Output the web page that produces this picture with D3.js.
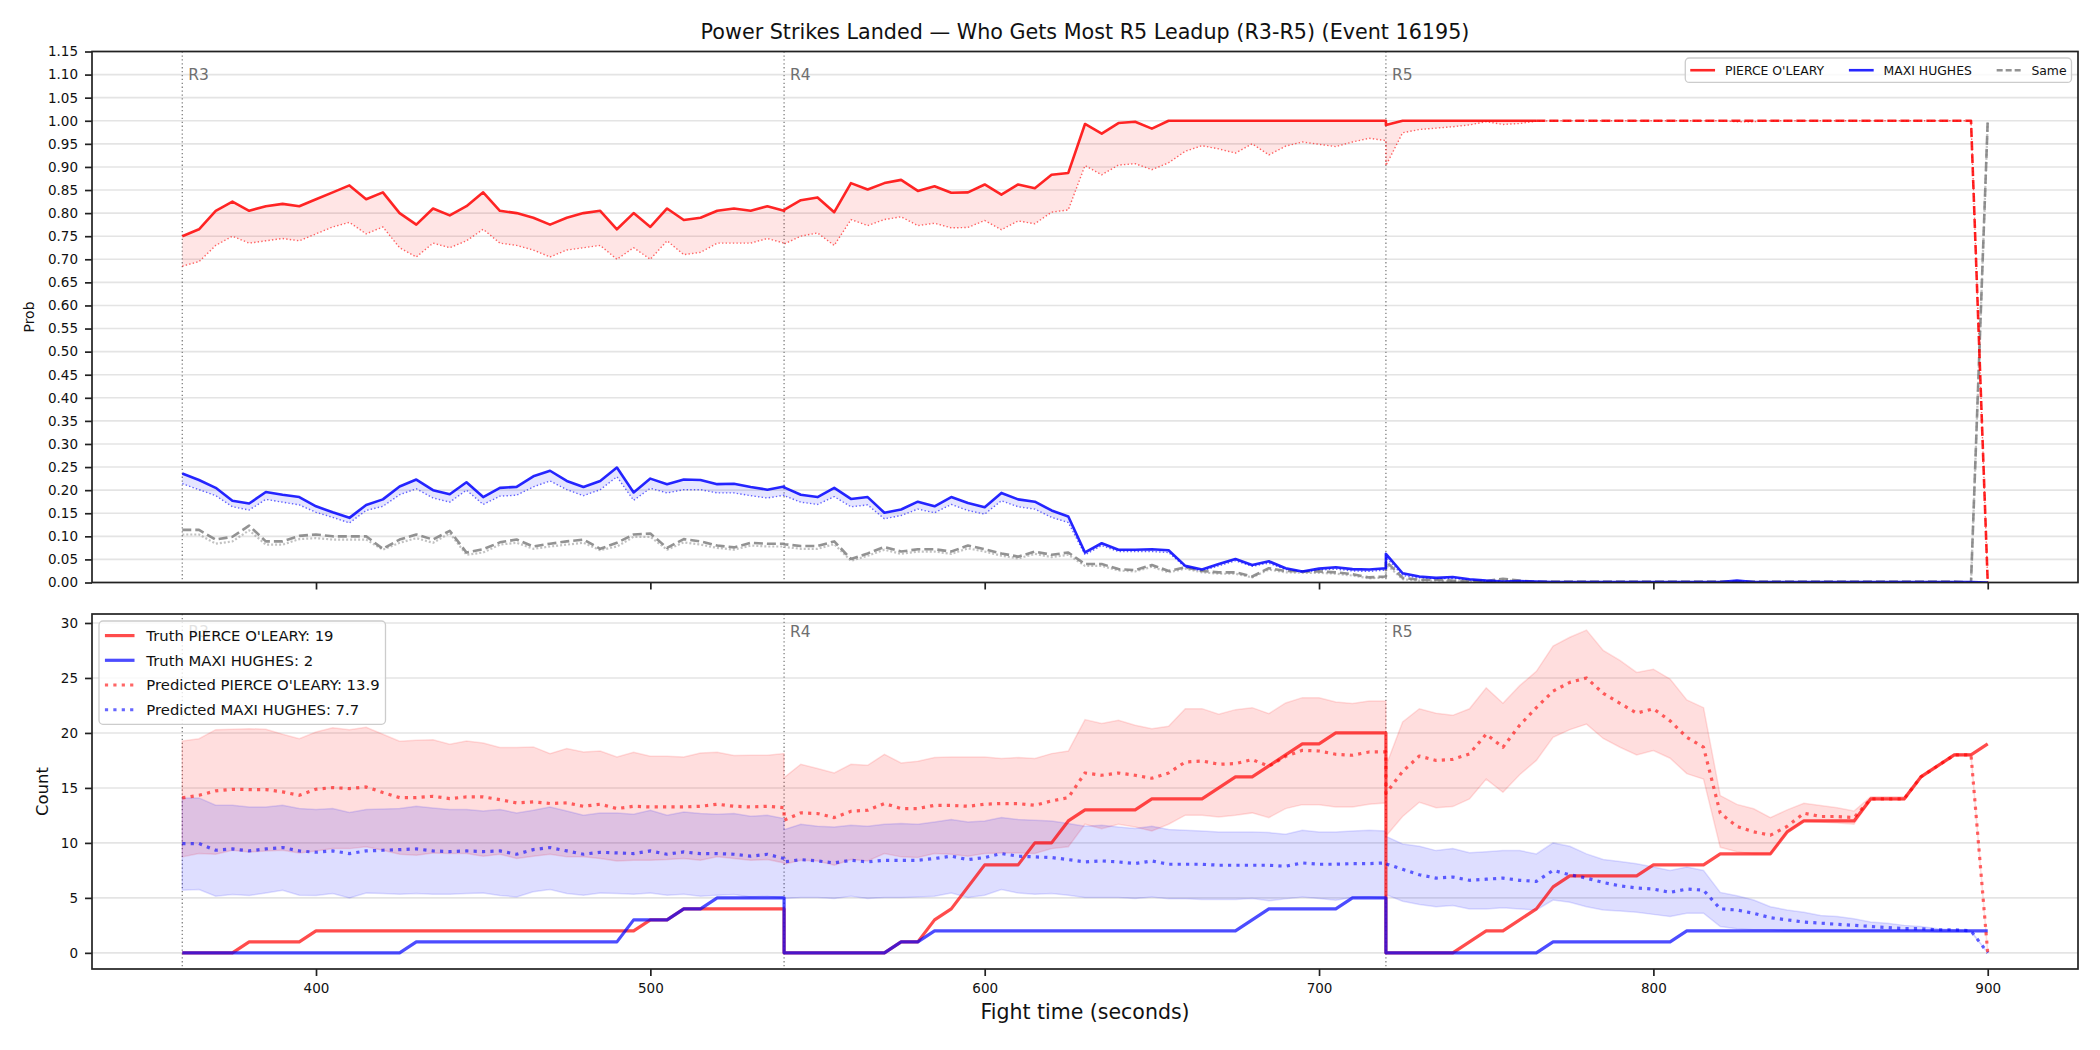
<!DOCTYPE html>
<html><head><meta charset="utf-8">
<script src="https://cdn.jsdelivr.net/npm/d3@7/dist/d3.min.js"></script>
<style>
body{margin:0;background:#fff}
svg{display:block}
text{font-family:"DejaVu Sans",sans-serif}
</style>
</head><body>
<svg id="chart" width="2100" height="1050"></svg>
<script>
// ---------------- DATA ----------------
const titleText = "Power Strikes Landed \u2014 Who Gets Most R5 Leadup (R3-R5) (Event 16195)";
const fighters = ["PIERCE O'LEARY", "MAXI HUGHES"];
const rounds = [{label:"R3", t:360}, {label:"R4", t:540}, {label:"R5", t:720}];
const probTicks = [0.00,0.05,0.10,0.15,0.20,0.25,0.30,0.35,0.40,0.45,0.50,0.55,0.60,0.65,0.70,0.75,0.80,0.85,0.90,0.95,1.00,1.05,1.10,1.15];
const countTicks = [0,5,10,15,20,25,30];
const timeTicks = [400,500,600,700,800,900];
const lockTime = 765; // after this the R5 top-panel red line is drawn dashed

const times = [
360,365,370,375,380,385,390,395,400,405,410,415,420,425,430,435,440,445,450,455,460,465,470,475,480,485,490,495,500,505,510,515,520,525,530,535,540,
540,545,550,555,560,565,570,575,580,585,590,595,600,605,610,615,620,625,630,635,640,645,650,655,660,665,670,675,680,685,690,695,700,705,710,715,720,
720,725,730,735,740,745,750,755,760,765,770,775,780,785,790,795,800,805,810,815,820,825,830,835,840,845,850,855,860,865,870,875,880,885,890,895,900];

// Top panel: probabilities
const probRed = [
0.750,0.765,0.805,0.825,0.805,0.815,0.820,0.815,0.830,0.845,0.860,0.830,0.845,0.800,0.775,0.810,0.795,0.815,0.845,0.805,0.800,0.790,0.775,0.790,0.800,0.805,0.765,0.800,0.770,0.810,0.785,0.790,0.805,0.810,0.805,0.815,0.805,
0.807,0.828,0.834,0.802,0.865,0.851,0.865,0.872,0.848,0.858,0.844,0.845,0.862,0.840,0.862,0.854,0.883,0.887,0.993,0.972,0.995,0.998,0.983,1,1,1,1,1,1,1,1,1,1,1,1,1,1,
0.991,1,1,1,1,1,1,1,1,1,1,1,1,1,1,1,1,1,1,1,1,1,1,1,1,1,1,1,1,1,1,1,1,1,1,1,0];
const probRedLow = [
0.685,0.695,0.730,0.750,0.735,0.740,0.745,0.740,0.755,0.770,0.780,0.755,0.770,0.725,0.705,0.735,0.725,0.740,0.765,0.735,0.730,0.720,0.705,0.720,0.725,0.730,0.700,0.725,0.700,0.740,0.710,0.715,0.735,0.735,0.735,0.745,0.735,
0.733,0.750,0.757,0.730,0.786,0.773,0.786,0.792,0.773,0.778,0.768,0.769,0.784,0.764,0.783,0.777,0.802,0.807,0.903,0.883,0.904,0.907,0.894,0.909,0.934,0.946,0.939,0.930,0.950,0.926,0.945,0.954,0.949,0.944,0.954,0.962,0.957,
0.903,0.974,0.981,0.984,0.987,0.991,0.998,0.992,0.994,0.999,1,1,1,1,1,1,1,1,1,1,1,0.998,0.998,1,1,1,1,1,1,1,1,1,1,1,1,1,0];
const probBlue = [
0.236,0.222,0.205,0.177,0.171,0.196,0.190,0.185,0.165,0.152,0.140,0.168,0.180,0.208,0.223,0.200,0.191,0.217,0.185,0.205,0.207,0.230,0.242,0.220,0.207,0.220,0.249,0.195,0.225,0.213,0.223,0.222,0.213,0.214,0.207,0.201,0.208,
0.206,0.190,0.185,0.205,0.181,0.185,0.151,0.158,0.175,0.165,0.185,0.172,0.163,0.194,0.180,0.175,0.156,0.143,0.065,0.085,0.071,0.071,0.072,0.070,0.036,0.028,0.040,0.051,0.038,0.046,0.031,0.024,0.030,0.033,0.029,0.028,0.031,
0.062,0.020,0.013,0.010,0.012,0.007,0.004,0.002,0.003,0.002,0.001,0.001,0.001,0.001,0.001,0.001,0.001,0.001,0.001,0.001,0.001,0.004,0.001,0.001,0.001,0.001,0.001,0.001,0.001,0.001,0.001,0.001,0.001,0.001,0.001,0.001,0];
const probBlueLow = [
0.214,0.201,0.188,0.164,0.157,0.180,0.174,0.168,0.152,0.141,0.129,0.156,0.165,0.190,0.203,0.183,0.174,0.200,0.169,0.187,0.189,0.207,0.220,0.201,0.188,0.201,0.229,0.178,0.204,0.194,0.201,0.201,0.194,0.194,0.188,0.183,0.189,
0.188,0.174,0.169,0.186,0.164,0.168,0.138,0.145,0.159,0.151,0.169,0.156,0.148,0.177,0.164,0.159,0.141,0.130,0.060,0.080,0.067,0.067,0.067,0.065,0.033,0.025,0.036,0.047,0.035,0.042,0.028,0.022,0.027,0.029,0.025,0.024,0.027,
0.055,0.015,0.010,0.008,0.009,0.005,0.003,0.001,0.002,0.001,0.0005,0.0005,0.0005,0.0005,0.0005,0.0005,0.0005,0.0005,0.0005,0.0005,0.0005,0.003,0.0005,0.0005,0.0005,0.0005,0.0005,0.0005,0.0005,0.0005,0.0005,0.0005,0.0005,0.0005,0.0005,0.0005,0];
const probSame = [
0.114,0.114,0.093,0.099,0.123,0.089,0.089,0.101,0.104,0.100,0.100,0.100,0.073,0.093,0.104,0.093,0.112,0.065,0.072,0.087,0.093,0.078,0.084,0.089,0.093,0.073,0.086,0.104,0.106,0.075,0.094,0.089,0.080,0.076,0.086,0.084,0.084,
0.083,0.079,0.079,0.089,0.051,0.063,0.077,0.067,0.072,0.072,0.067,0.080,0.072,0.063,0.056,0.067,0.060,0.065,0.040,0.040,0.029,0.027,0.038,0.025,0.033,0.025,0.022,0.022,0.013,0.031,0.025,0.024,0.024,0.022,0.018,0.011,0.013,
0.046,0.010,0.006,0.006,0.004,0.003,0.003,0.008,0.004,0.002,0.002,0.002,0.002,0.002,0.002,0.002,0.002,0.002,0.002,0.002,0.002,0.002,0.002,0.002,0.002,0.002,0.002,0.002,0.002,0.002,0.002,0.002,0.002,0.002,0.002,0,1];
const probSameLow = [
0.104,0.104,0.084,0.089,0.113,0.082,0.082,0.094,0.096,0.093,0.093,0.093,0.071,0.086,0.096,0.086,0.107,0.060,0.065,0.082,0.086,0.073,0.078,0.082,0.086,0.070,0.078,0.099,0.099,0.071,0.087,0.082,0.075,0.071,0.080,0.078,0.078,
0.077,0.073,0.073,0.083,0.047,0.058,0.071,0.062,0.067,0.067,0.062,0.074,0.067,0.058,0.052,0.062,0.055,0.060,0.036,0.036,0.026,0.024,0.034,0.022,0.030,0.022,0.019,0.019,0.011,0.028,0.022,0.021,0.021,0.019,0.015,0.009,0.011,
0.040,0.007,0.004,0.004,0.003,0.002,0.002,0.006,0.003,0.001,0.001,0.001,0.001,0.001,0.001,0.001,0.001,0.001,0.001,0.001,0.001,0.001,0.001,0.001,0.001,0.001,0.001,0.001,0.001,0.001,0.001,0.001,0.001,0.001,0.001,0,1];

// Bottom panel: counts
const truthRed = [
0,0,0,0,1,1,1,1,2,2,2,2,2,2,2,2,2,2,2,2,2,2,2,2,2,2,2,2,3,3,4,4,4,4,4,4,4,
0,0,0,0,0,0,0,1,1,3,4,6,8,8,8,10,10,12,13,13,13,13,14,14,14,14,15,16,16,17,18,19,19,20,20,20,20,
0,0,0,0,0,1,2,2,3,4,6,7,7,7,7,7,8,8,8,8,9,9,9,9,11,12,12,12,12,14,14,14,16,17,18,18,19];
const truthBlue = [
0,0,0,0,0,0,0,0,0,0,0,0,0,0,1,1,1,1,1,1,1,1,1,1,1,1,1,3,3,3,4,4,5,5,5,5,5,
0,0,0,0,0,0,0,1,1,2,2,2,2,2,2,2,2,2,2,2,2,2,2,2,2,2,2,2,3,4,4,4,4,4,5,5,5,
0,0,0,0,0,0,0,0,0,0,1,1,1,1,1,1,1,1,2,2,2,2,2,2,2,2,2,2,2,2,2,2,2,2,2,2,2];
const predRed = [
14.09,14.33,14.73,14.88,14.85,14.85,14.64,14.33,14.88,15.03,14.94,15.09,14.58,14.12,14.12,14.24,14.03,14.18,14.18,13.94,13.64,13.73,13.58,13.64,13.33,13.52,13.12,13.33,13.27,13.27,13.27,13.33,13.52,13.33,13.27,13.33,13.21,
12.06,12.73,12.67,12.30,12.88,12.97,13.58,13.12,13.12,13.42,13.42,13.33,13.52,13.58,13.58,13.42,13.82,14.12,16.36,16.15,16.36,16.15,15.88,16.36,17.36,17.45,17.15,17.21,17.58,16.97,17.88,18.42,18.36,18.06,17.97,18.27,18.27,
14.5,16.5,17.9,17.5,17.6,18.1,19.9,18.7,20.7,22.3,23.8,24.6,25.0,23.6,22.7,21.8,22.2,21.1,19.6,18.7,12.7,11.5,11.0,10.7,11.5,12.7,12.4,12.4,12.3,14.0,14.0,14.0,16.0,17.0,18.0,18.0,0];
const predRedHigh = [
19.27,19.48,20.30,20.33,20.39,20.33,19.88,19.48,20.09,20.48,20.30,20.52,19.88,19.24,19.33,19.39,18.97,19.27,19.09,18.67,18.67,18.73,18.12,18.58,18.27,18.36,17.82,18.24,17.88,17.88,17.82,18.18,18.24,17.94,17.97,17.97,18.12,
15.94,17.15,16.76,16.36,17.15,17.06,18.06,17.27,17.42,17.76,17.82,17.82,17.82,17.67,17.76,17.67,18.12,18.36,21.21,20.85,21.15,20.70,20.39,20.61,22.21,22.21,21.70,22.12,22.30,21.76,22.73,23.21,23.21,22.82,22.67,22.91,22.91,
17.0,21.0,22.2,21.8,21.6,22.2,24.1,22.7,24.3,25.6,27.9,28.7,29.35,27.5,26.6,25.5,25.8,24.9,23.0,22.3,14.3,13.5,13.1,12.3,13.0,13.6,13.4,13.2,12.9,14.2,14.2,14.2,16.1,17.1,18.1,18.1,0];
const predRedLow = [
8.73,9.03,8.97,9.33,9.18,9.27,9.33,9.09,9.27,9.48,9.48,9.64,9.33,8.97,8.88,9.09,9.03,9.03,8.79,8.97,8.58,8.79,8.97,8.73,8.73,8.58,8.36,8.42,8.42,8.48,8.58,8.42,8.73,8.58,8.42,8.48,8.18,
8.06,8.42,8.36,7.97,8.48,8.36,9.03,8.73,8.67,9.03,8.97,8.79,9.03,9.09,9.09,9.03,9.48,9.64,11.70,11.30,11.70,11.45,11.09,11.70,12.52,12.52,12.36,12.52,12.73,12.30,13.12,13.48,13.48,13.27,13.27,13.52,13.64,
10.6,12.4,13.7,13.2,13.3,14.0,15.8,14.6,16.2,17.5,19.6,20.3,20.8,19.5,18.7,18.0,18.4,17.7,16.3,15.8,9.6,9.2,9.0,9.0,11.0,12.0,11.9,11.8,11.7,13.9,13.9,13.9,15.9,16.9,17.9,17.9,0];
const predBlue = [
9.94,9.94,9.33,9.45,9.27,9.45,9.58,9.27,9.15,9.27,9.03,9.27,9.33,9.39,9.45,9.27,9.21,9.27,9.21,9.27,8.97,9.39,9.58,9.27,8.97,9.15,9.09,9.03,9.27,8.97,9.18,9.03,9.03,8.97,8.79,8.97,8.58,
8.27,8.48,8.36,8.18,8.42,8.27,8.42,8.42,8.42,8.58,8.79,8.48,8.67,9.03,8.79,8.73,8.67,8.48,8.27,8.36,8.27,8.12,8.36,8.06,8.06,8.06,7.97,7.97,7.97,7.97,7.88,8.18,8.06,8.06,8.12,8.12,8.18,
8.1,7.6,7.1,6.8,6.9,6.6,6.7,6.8,6.6,6.5,7.5,7.1,6.8,6.4,6.1,5.9,5.8,5.5,5.8,5.7,4.0,3.9,3.6,3.2,3.0,2.8,2.7,2.6,2.5,2.4,2.3,2.2,2.2,2.1,2.1,2.0,0];
const predBlueHigh = [
14.09,14.09,13.42,13.42,13.27,13.27,13.42,13.12,13.03,13.12,12.76,13.03,13.09,13.12,13.33,13.18,13.03,13.03,12.91,13.03,12.73,12.97,13.27,12.91,12.52,12.73,12.73,12.61,12.97,12.52,12.82,12.67,12.61,12.67,12.42,12.52,12.21,
11.21,11.70,11.52,11.45,11.61,11.52,11.70,11.76,11.70,11.91,12.12,11.91,12.00,12.30,12.12,12.06,12.00,11.76,11.52,11.61,11.45,11.30,11.52,11.21,11.15,11.09,11.00,11.00,11.00,10.94,10.79,11.15,11.00,11.00,11.09,11.15,11.09,
10.6,9.9,9.7,9.3,9.5,9.1,9.2,9.3,9.3,9.0,10.0,9.7,9.0,8.5,8.3,8.1,7.8,7.5,7.8,7.5,5.5,5.2,4.8,4.2,3.9,3.7,3.4,3.3,3.1,2.8,2.7,2.5,2.4,2.2,2.1,2.0,0];
const predBlueLow = [
5.70,5.76,5.15,5.30,5.21,5.45,5.70,5.24,5.21,5.39,5.00,5.45,5.39,5.33,5.39,5.33,5.33,5.39,5.45,5.21,5.09,5.55,5.76,5.39,5.24,5.45,5.39,5.33,5.45,5.24,5.33,5.15,5.24,5.30,5.09,5.15,4.94,
4.94,5.03,5.03,4.94,5.15,4.94,5.03,5.03,5.09,5.15,5.45,5.03,5.24,5.76,5.45,5.33,5.39,5.24,5.03,5.03,5.03,4.94,5.09,4.91,4.91,4.85,4.85,4.85,4.94,4.73,4.91,5.09,4.94,4.79,5.03,5.09,4.94,
5.3,4.7,4.4,4.2,4.3,4.0,4.0,4.1,4.0,3.9,4.8,4.6,4.2,3.9,3.8,3.7,3.5,3.3,3.6,3.6,2.4,2.2,2.1,2.1,2.0,2.0,2.0,2.0,2.0,2.0,2.0,2.0,2.0,1.9,1.9,1.9,0];

const finalTruth = [19, 2];
const finalPred = [13.9, 7.7];

// ---------------- LAYOUT / STYLE ----------------
const RED = "#ff0000", BLUE = "#0000ff", GRAY = "#808080";
const FONT = '"DejaVu Sans", sans-serif';
const L = 92, R = 2078;
const P1 = {top: 51.5, bottom: 582.5};
const P2 = {top: 614, bottom: 969};

const svg = d3.select("#chart");
function padExt([a, b], f) { const r = b - a; return [a - r * f, b + r * f]; }

const x = d3.scaleLinear().domain(padExt(d3.extent(times), 0.05)).range([L, R]);
const yP = d3.scaleLinear().domain([0, 1.15]).range([P1.bottom, P1.top]);
const allCounts = [].concat(truthRed, truthBlue, predRed, predRedHigh, predRedLow, predBlue, predBlueHigh, predBlueLow);
const yC = d3.scaleLinear().domain(padExt(d3.extent(allCounts), 0.05)).range([P2.bottom, P2.top]);

const r5Start = times.lastIndexOf(rounds[2].t);

// clip paths
const defs = svg.append("defs");
[["clipTop", P1], ["clipBot", P2]].forEach(([id, P]) => {
  defs.append("clipPath").attr("id", id).append("rect")
    .attr("x", L).attr("y", P.top).attr("width", R - L).attr("height", P.bottom - P.top);
});

function lineGen(yS, defined) {
  const g = d3.line().x((d, i) => x(times[i])).y(d => yS(d));
  if (defined) g.defined((d, i) => defined(i));
  return g;
}
function drawLine(g, vals, yS, o) {
  return g.append("path").datum(vals)
    .attr("d", lineGen(yS, o.defined))
    .attr("fill", "none").attr("stroke", o.color)
    .attr("stroke-width", o.width).attr("stroke-opacity", o.opacity ?? 1)
    .attr("stroke-dasharray", o.dash || null)
    .attr("stroke-linejoin", "round").attr("stroke-linecap", o.cap || "butt");
}
function drawBand(g, hi, lo, yS, o) {
  const a = d3.area().x((d, i) => x(times[i])).y0((d, i) => yS(lo[i])).y1((d, i) => yS(hi[i]));
  g.append("path").datum(hi).attr("d", a)
    .attr("fill", o.color).attr("fill-opacity", o.opacity)
    .attr("stroke", o.edge ? o.color : "none").attr("stroke-opacity", o.edge || 0)
    .attr("stroke-width", 1.5);
}

function panelBase(P, yS, ticks) {
  const g = svg.append("g");
  g.selectAll("line.grid").data(ticks).join("line")
    .attr("x1", L).attr("x2", R).attr("y1", d => yS(d)).attr("y2", d => yS(d))
    .attr("stroke", "#e4e4e4").attr("stroke-width", 1.6);
  g.selectAll("line.rnd").data(rounds).join("line")
    .attr("x1", d => x(d.t)).attr("x2", d => x(d.t)).attr("y1", P.top).attr("y2", P.bottom)
    .attr("stroke", GRAY).attr("stroke-width", 1.3).attr("stroke-dasharray", "1.3,2.6");
  return g;
}
function roundLabels(g, P) {
  g.selectAll("text.rl").data(rounds).join("text")
    .attr("x", d => x(d.t) + 6).attr("y", P.top + (P.bottom - P.top) * 0.03 + 12.5)
    .attr("font-size", 15.5).attr("fill", "#6f6f6f").text(d => d.label);
}
function axes(P, yS, ticks, fmt, showX) {
  const ga = svg.append("g").attr("transform", `translate(${L},0)`)
    .call(d3.axisLeft(yS).tickValues(ticks).tickFormat(fmt).tickSize(7).tickPadding(7));
  const gb = svg.append("g").attr("transform", `translate(0,${P.bottom})`)
    .call(d3.axisBottom(x).tickValues(timeTicks).tickFormat(showX ? d3.format("d") : () => "").tickSize(7).tickPadding(7));
  [ga, gb].forEach(a => {
    a.select(".domain").remove();
    a.selectAll(".tick line").attr("stroke", "#222").attr("stroke-width", 1.7);
    a.selectAll(".tick text").attr("font-family", FONT).attr("font-size", 13.5).attr("fill", "#111");
  });
  svg.append("rect").attr("x", L).attr("y", P.top).attr("width", R - L).attr("height", P.bottom - P.top)
    .attr("fill", "none").attr("stroke", "#222").attr("stroke-width", 1.7);
}

// legend helper
function legend(items, o) {
  const g = svg.append("g");
  const box = g.append("rect").attr("rx", 4).attr("ry", 4)
    .attr("fill", "#fff").attr("fill-opacity", 0.8).attr("stroke", "#cccccc").attr("stroke-width", 1.3);
  const em = o.fontSize, pad = 0.4 * em, hl = 2 * em, htp = 0.8 * em;
  const rowH = em * 1.17;
  let maxW = 0;
  const entries = items.map((it, k) => {
    const eg = g.append("g");
    eg.append("line").attr("x1", 0).attr("x2", hl).attr("y1", 0).attr("y2", 0)
      .attr("stroke", it.color).attr("stroke-width", it.width).attr("stroke-opacity", it.opacity ?? 1)
      .attr("stroke-dasharray", it.dash || null);
    const t = eg.append("text").attr("x", hl + htp).attr("y", 0).attr("dy", "0.36em")
      .attr("font-size", o.fontSize).attr("fill", "#111").text(it.label);
    const w = hl + htp + t.node().getComputedTextLength();
    return {eg, w};
  });
  if (o.horizontal) {
    let pos = pad;
    entries.forEach((e, k) => { e.eg.attr("transform", `translate(${pos},${pad + rowH / 2})`); pos += e.w + (k < entries.length - 1 ? 2 * em : 0); });
    const W = pos + pad, H = rowH + 2 * pad;
    box.attr("x", 0).attr("y", 0).attr("width", W).attr("height", H);
    g.attr("transform", `translate(${o.right - W},${o.top})`);
  } else {
    entries.forEach((e, k) => { e.eg.attr("transform", `translate(${pad},${pad + rowH / 2 + k * (rowH + 0.5 * em)})`); maxW = Math.max(maxW, e.w); });
    const W = maxW + 2 * pad, H = entries.length * rowH + (entries.length - 1) * 0.5 * em + 2 * pad;
    box.attr("x", 0).attr("y", 0).attr("width", W).attr("height", H);
    g.attr("transform", `translate(${o.left},${o.top})`);
  }
}

// ---------------- TOP PANEL ----------------
panelBase(P1, yP, probTicks);
const dT = svg.append("g").attr("clip-path", "url(#clipTop)");
drawBand(dT, probRed, probRedLow, yP, {color: RED, opacity: 0.1});
drawBand(dT, probBlue, probBlueLow, yP, {color: BLUE, opacity: 0.1});
drawLine(dT, probSameLow, yP, {color: "#999999", width: 2.2, opacity: 0.6, dash: "2,2"});
drawLine(dT, probRedLow, yP, {color: RED, width: 1.4, opacity: 0.6, dash: "1.4,2.2"});
drawLine(dT, probBlueLow, yP, {color: BLUE, width: 1.4, opacity: 0.6, dash: "1.4,2.2"});
drawLine(dT, probSame, yP, {color: GRAY, width: 2.6, opacity: 0.85, dash: "9,4"});
drawLine(dT, probBlue, yP, {color: BLUE, width: 2.6, opacity: 0.85});
drawLine(dT, probRed, yP, {color: RED, width: 2.6, opacity: 0.85,
  defined: i => !(i >= r5Start && times[i] > lockTime)});
drawLine(dT, probRed, yP, {color: RED, width: 2.6, opacity: 0.85, dash: "9,4",
  defined: i => i >= r5Start && times[i] >= lockTime});
roundLabels(svg.append("g"), P1);
legend([
  {label: fighters[0], color: RED, width: 2.6, opacity: 0.85},
  {label: fighters[1], color: BLUE, width: 2.6, opacity: 0.85},
  {label: "Same", color: GRAY, width: 2.6, opacity: 0.85, dash: "6,3"}
], {horizontal: true, fontSize: 12.4, right: R - 6.5, top: P1.top + 6.5});
axes(P1, yP, probTicks, d3.format(".2f"), false);

// ---------------- BOTTOM PANEL ----------------
panelBase(P2, yC, countTicks);
const dB = svg.append("g").attr("clip-path", "url(#clipBot)");
drawBand(dB, predRedHigh, predRedLow, yC, {color: RED, opacity: 0.13, edge: 0.12});
drawBand(dB, predBlueHigh, predBlueLow, yC, {color: BLUE, opacity: 0.13, edge: 0.12});
drawLine(dB, truthRed, yC, {color: RED, width: 3.2, opacity: 0.7});
drawLine(dB, truthBlue, yC, {color: BLUE, width: 3.2, opacity: 0.7});
drawLine(dB, predRed, yC, {color: RED, width: 3.2, opacity: 0.6, dash: "3.2,5.2"});
drawLine(dB, predBlue, yC, {color: BLUE, width: 3.2, opacity: 0.6, dash: "3.2,5.2"});
roundLabels(svg.append("g"), P2);
legend([
  {label: `Truth ${fighters[0]}: ${finalTruth[0]}`, color: RED, width: 3.2, opacity: 0.7},
  {label: `Truth ${fighters[1]}: ${finalTruth[1]}`, color: BLUE, width: 3.2, opacity: 0.7},
  {label: `Predicted ${fighters[0]}: ${finalPred[0]}`, color: RED, width: 3.2, opacity: 0.6, dash: "3.2,5.2"},
  {label: `Predicted ${fighters[1]}: ${finalPred[1]}`, color: BLUE, width: 3.2, opacity: 0.6, dash: "3.2,5.2"}
], {horizontal: false, fontSize: 14.8, left: L + 7, top: P2.top + 7});
axes(P2, yC, countTicks, d3.format("d"), true);

// ---------------- TEXTS ----------------
svg.append("text").attr("x", (L + R) / 2).attr("y", 39).attr("text-anchor", "middle")
  .attr("font-size", 20.7).attr("fill", "#111").text(titleText);
svg.append("text").attr("x", (L + R) / 2).attr("y", 1019).attr("text-anchor", "middle")
  .attr("font-size", 20.5).attr("fill", "#111").text("Fight time (seconds)");
svg.append("text").attr("transform", `translate(29,${(P1.top + P1.bottom) / 2}) rotate(-90)`)
  .attr("text-anchor", "middle").attr("dy", "0.35em").attr("font-size", 14).attr("fill", "#111").text("Prob");
svg.append("text").attr("transform", `translate(42,${(P2.top + P2.bottom) / 2}) rotate(-90)`)
  .attr("text-anchor", "middle").attr("dy", "0.35em").attr("font-size", 16.5).attr("fill", "#111").text("Count");
</script>
</body></html>
